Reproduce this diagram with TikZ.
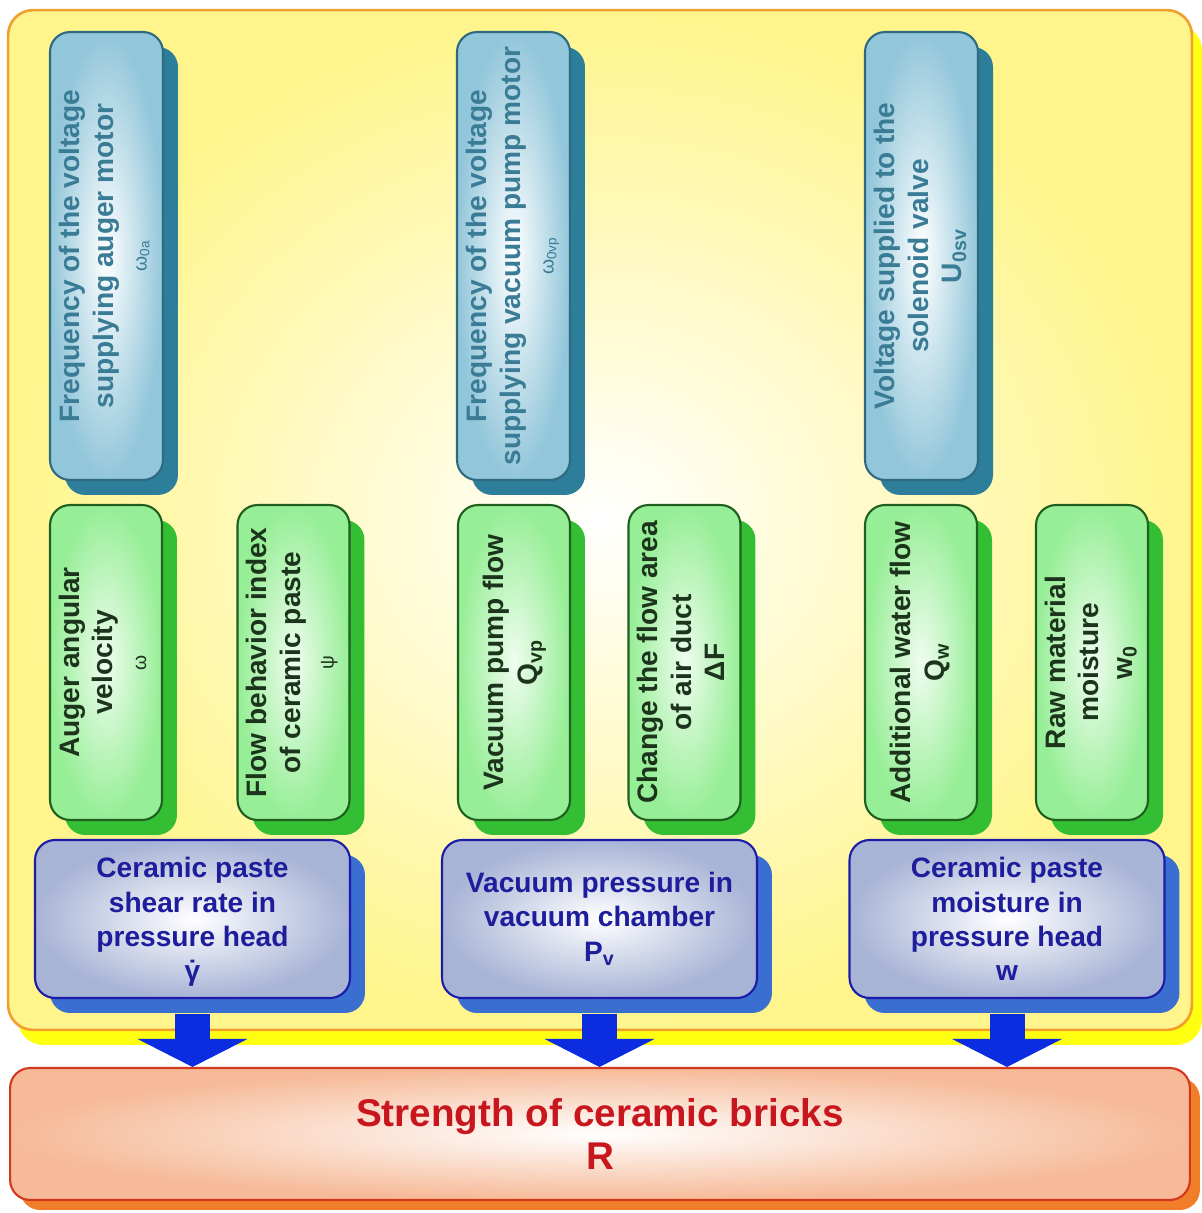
\documentclass[tikz,border=0pt]{standalone}
\usepackage{fontspec}
\setmainfont{Liberation Sans}
\usetikzlibrary{shadows,arrows.meta}
\definecolor{panelline}{HTML}{F0A02C}
\definecolor{panelfill}{HTML}{FFF58C}
\definecolor{panelshade}{HTML}{FFFF10}
\definecolor{ctrlline}{HTML}{2E6A80}
\definecolor{ctrlfill}{HTML}{92C6DA}
\definecolor{ctrlshade}{HTML}{2D7E9A}
\definecolor{ctrltext}{HTML}{3A7C96}
\definecolor{parline}{HTML}{1F5F1F}
\definecolor{parfill}{HTML}{96EE96}
\definecolor{parshade}{HTML}{34BE34}
\definecolor{partext}{HTML}{1C341C}
\definecolor{stateline}{HTML}{1C1CA8}
\definecolor{statefill}{HTML}{A8B4D6}
\definecolor{stateshade}{HTML}{3A6ED0}
\definecolor{statetext}{HTML}{1E1E9C}
\definecolor{flowblue}{HTML}{0C2CE0}
\definecolor{outline}{HTML}{D2381E}
\definecolor{outfill}{HTML}{F6BA98}
\definecolor{outshade}{HTML}{F07E28}
\definecolor{outtext}{HTML}{C8161E}
\newcommand{\vtext}[1]{\rotatebox{90}{\begin{tabular}{@{}c@{}}#1\end{tabular}}}
\newcommand{\smallsym}{\fontsize{11}{13}\selectfont\mdseries}
\newcommand{\gdot}{\smash{\accent"02D9 γ}}

\begin{document}
\begin{tikzpicture}[x=0.02cm,y=-0.02cm]
\tikzstyle{every node}+=[inner sep=0pt, font=\fontsize{16}{19}\selectfont\bfseries]
\tikzstyle{panelbox}=[draw=panelline, line width=1.5pt, rounded corners=0.5cm, inner color=white, outer color=panelfill, minimum width=23.68cm, minimum height=20.4cm, drop shadow={shadow xshift=0.2cm, shadow yshift=-0.3cm, fill=panelshade, opacity=1}]
\tikzstyle{ctrlbox}=[draw=ctrlline, line width=1.2pt, rounded corners=0.4cm, inner color=white, outer color=ctrlfill, text=ctrltext, minimum width=2.26cm, minimum height=8.96cm, drop shadow={shadow xshift=0.3cm, shadow yshift=-0.3cm, fill=ctrlshade, opacity=1}]
\tikzstyle{parbox}=[draw=parline, line width=1.2pt, rounded corners=0.4cm, inner color=white!85!parfill, outer color=parfill, text=partext, minimum width=2.24cm, minimum height=6.3cm, drop shadow={shadow xshift=0.3cm, shadow yshift=-0.3cm, fill=parshade, opacity=1}]
\tikzstyle{statebox}=[draw=stateline, line width=1.2pt, rounded corners=0.4cm, inner color=white, outer color=statefill, text=statetext, align=center, font=\fontsize{16}{19.5}\selectfont\bfseries, minimum width=6.3cm, minimum height=3.16cm, drop shadow={shadow xshift=0.3cm, shadow yshift=-0.3cm, fill=stateshade, opacity=1}]
\tikzstyle{outbox}=[draw=outline, line width=1.2pt, rounded corners=0.4cm, inner color=white, outer color=outfill, text=outtext, align=center, font=\fontsize{22}{25}\selectfont\bfseries, minimum width=23.6cm, minimum height=2.64cm, drop shadow={shadow xshift=0.2cm, shadow yshift=-0.2cm, fill=outshade, opacity=1}]
\tikzstyle{flowarrow}=[draw=flowblue, line width=0.7cm, -{Triangle[width=2.2cm, length=0.56cm, line width=0pt]}]
\useasboundingbox (0,0) rectangle (1201,1213);
\node[panelbox] (panel) at (600,520) {};
\node[ctrlbox] (auger) at (106.5,256) {\vtext{Frequency of the voltage\\supplying auger motor\\{\smallsym ω\textsubscript{0a}}}};
\node[ctrlbox] (pump) at (513.5,256) {\vtext{Frequency of the voltage\\supplying vacuum pump motor\\{\smallsym ω\textsubscript{0vp}}}};
\node[ctrlbox] (valve) at (921.5,256) {\vtext{Voltage supplied to the\\solenoid valve\\U\textsubscript{0sv}}};
\node[parbox] (omega) at (106,662.5) {\vtext{Auger angular\\velocity\\{\smallsym ω}}};
\node[parbox] (psi) at (293.5,662.5) {\vtext{Flow behavior index\\of ceramic paste\\{\smallsym ψ}}};
\node[parbox] (qvp) at (514,662.5) {\vtext{Vacuum pump flow\\Q\textsubscript{vp}}};
\node[parbox] (dF) at (684.5,662.5) {\vtext{Change the flow area\\of air duct\\ΔF}};
\node[parbox] (qw) at (921,662.5) {\vtext{Additional water flow\\Q\textsubscript{w}}};
\node[parbox] (w0) at (1092,662.5) {\vtext{Raw material\\moisture\\w\textsubscript{0}}};
\node[statebox] (shear) at (192.5,919) {Ceramic paste\\shear rate in\\pressure head\\\gdot};
\node[statebox] (vac) at (599.5,919) {Vacuum pressure in\\vacuum chamber\\P\textsubscript{v}};
\node[statebox] (moist) at (1007,919) {Ceramic paste\\moisture in\\pressure head\\w};
\node[outbox] (R) at (600,1134) {Strength of ceramic bricks\\R};
\draw[flowarrow] ([yshift=-0.3cm]shear.south) -- (shear.south |- R.north);
\draw[flowarrow] ([yshift=-0.3cm]vac.south) -- (vac.south |- R.north);
\draw[flowarrow] ([yshift=-0.3cm]moist.south) -- (moist.south |- R.north);
\end{tikzpicture}
\end{document}
